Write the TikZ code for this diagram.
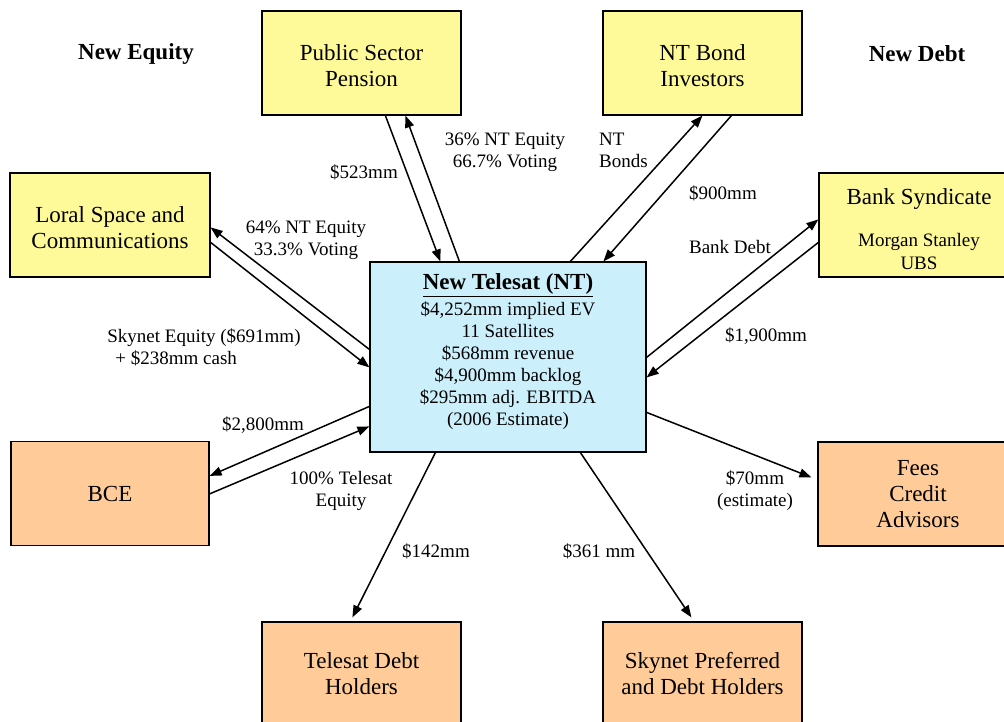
\documentclass[tikz,border=0pt]{standalone}
\usepackage{fontspec}
\setmainfont{Liberation Serif}
\usetikzlibrary{arrows.meta}
\newcommand{\boxfont}{\fontsize{23}{26}\selectfont}
\newcommand{\lblfont}{\fontsize{19}{22}\selectfont}
\newcommand{\topgap}{\rule{0pt}{22pt}}
\begin{document}
\begin{tikzpicture}[x=1pt,y=-1pt,
  party node/.style={draw,line width=1.2pt,minimum width=199pt,minimum height=104pt,
    align=center,font=\boxfont,inner sep=0pt},
  equity node/.style={party node,fill=yellow!40},
  payout node/.style={party node,fill=orange!40},
  hub node/.style={draw,line width=1.2pt,fill=cyan!20,minimum width=276pt,
    minimum height=190pt,inner sep=0pt},
  flow/.style={line width=1.5pt,-{Triangle[length=12pt,width=9pt]}},
  amount/.style={font=\lblfont,align=center,inner sep=0pt},
  side title/.style={font=\boxfont\bfseries,inner sep=0pt}]
\useasboundingbox (0,0) rectangle (1004,721);
\node[side title] (eqtitle) at (136,54) {New Equity};
\node[side title] (debttitle) at (917,54) {New Debt};
\node[equity node] (psp) at (361.5,63) {\topgap Public Sector\\Pension};
\node[equity node] (ntb) at (702.5,63) {\topgap NT Bond\\Investors};
\node[equity node,minimum width=200pt] (loral) at (110,225) {\topgap Loral Space and\\Communications};
\node[equity node,minimum width=200pt] (bank) at (919,225)
  {\rule{0pt}{25pt}Bank Syndicate\\[16pt]{\lblfont Morgan Stanley}\\[-3pt]{\lblfont UBS}};
\node[hub node,label={[amount,yshift=5.5pt]center:{\bfseries\boxfont\underline{New Telesat (NT)}}\\[4pt]
   \$4,252mm implied EV\\11 Satellites\\\$568mm revenue\\
   \$4,900mm backlog\\\$295mm adj. EBITDA\\(2006 Estimate)}] (nt) at (508,357) {};
\node[payout node,minimum width=198pt] (bce) at (110,493.5) {BCE};
\node[payout node,minimum width=200pt] (fees) at (918,494) {Fees\\Credit\\Advisors};
\node[payout node] (tdh) at (361.5,674) {Telesat Debt\\Holders};
\node[payout node] (spd) at (702.5,674) {Skynet Preferred\\and Debt Holders};
\draw[flow] ([xshift=124pt]psp.south west) -- ([xshift=71pt]nt.north west);
\draw[flow] ([xshift=90pt]nt.north west) -- ([xshift=144pt]psp.south west);
\draw[flow] ([xshift=201pt]nt.north west) -- ([xshift=100pt]ntb.south west);
\draw[flow] ([xshift=129pt]ntb.south west) -- ([xshift=234pt]nt.north west);
\draw[flow] ([yshift=-96pt]nt.north east) -- ([yshift=-47pt]bank.north west);
\draw[flow] ([yshift=-70pt]bank.north west) -- ([yshift=-116pt]nt.north east);
\draw[flow] ([yshift=-88pt]nt.north west) -- ([yshift=-55pt]loral.north east);
\draw[flow] ([yshift=-70pt]loral.north east) -- ([yshift=-106pt]nt.north west);
\draw[flow] ([yshift=-145pt]nt.north west) -- ([yshift=-35pt]bce.north east);
\draw[flow] ([yshift=-53pt]bce.north east) -- ([yshift=-165pt]nt.north west);
\draw[flow] ([yshift=-151pt]nt.north east) -- ([xshift=-6pt,yshift=-36pt]fees.north west);
\draw[flow] ([xshift=66pt]nt.south west) -- ([xshift=91pt,yshift=4pt]tdh.north west);
\draw[flow] ([xshift=211pt]nt.south west) -- ([xshift=89pt,yshift=4pt]spd.north west);
\node[amount] (pspcash) at (364,172) {\$523mm};
\node[amount] (pspstake) at (505,152) {36\% NT Equity\\66.7\% Voting};
\node[amount,align=left,anchor=west] (bonds) at (599,150) {NT\\Bonds};
\node[amount] (bondcash) at (723,193) {\$900mm};
\node[amount] (bankdebt) at (730,247) {Bank Debt};
\node[amount] (bankcash) at (766,336) {\$1,900mm};
\node[amount] (loralstake) at (306,240) {64\% NT Equity\\33.3\% Voting};
\node[amount,align=left] (skynet) at (204,347)
  {Skynet Equity (\$691mm)\\\hspace*{8pt}+ \$238mm cash};
\node[amount] (bcecash) at (263,425) {\$2,800mm};
\node[amount] (bcestake) at (341,491) {100\% Telesat\\Equity};
\node[amount] (feescash) at (755,491) {\$70mm\\(estimate)};
\node[amount] (tdhcash) at (436,551) {\$142mm};
\node[amount] (spdcash) at (599,551) {\$361 mm};
\end{tikzpicture}
\end{document}
